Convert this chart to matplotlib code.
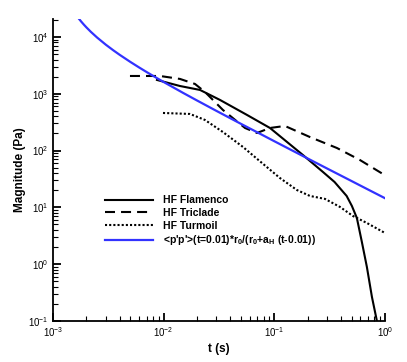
import numpy as np
import matplotlib
matplotlib.use("Agg")
import matplotlib.pyplot as plt
from matplotlib.ticker import LogLocator, NullFormatter

plt.rcParams['font.family'] = ['Liberation Sans', 'DejaVu Sans']
plt.rcParams['mathtext.fontset'] = 'custom'
plt.rcParams['mathtext.rm'] = 'Liberation Sans'
plt.rcParams['mathtext.it'] = 'Liberation Sans:italic'
plt.rcParams['mathtext.bf'] = 'Liberation Sans:bold'

# HF Flamenco
t_flamenco = [0.0087, 0.0140, 0.0213, 0.0323, 0.0566, 0.0913, 0.181, 0.275, 0.35,
              0.45, 0.502, 0.557, 0.618, 0.686, 0.762, 0.845]
v_flamenco = [1750, 1371, 1167, 778, 424, 250, 83.7, 42, 28,
              15.9, 10.6, 6.5, 2.46, 0.893, 0.265, 0.1]

# HF Triclade
t_triclade = [0.00496, 0.00926, 0.01404, 0.01918, 0.0236, 0.0343, 0.0543, 0.0697,
              0.0913, 0.1247, 0.2097, 0.3677, 0.593, 0.957]
v_triclade = [2056, 2056, 1824, 1488, 1077, 519, 250, 204,
              250, 271, 173, 111, 68.3, 38.7]

# HF Turmoil
t_turmoil = [0.00986, 0.01729, 0.0236, 0.0343, 0.052, 0.0773, 0.1123, 0.160,
             0.2097, 0.2866, 0.3913, 0.5128, 0.686, 1.0]
v_turmoil = [459, 441, 346, 212, 116, 60.5, 32.9, 20.2,
             15.9, 14.1, 10.2, 7.06, 5.31, 3.54]

# model curve
t_model = [0.0017, 0.0018, 0.0019, 0.002, 0.0022, 0.0025, 0.003, 0.0035, 0.004,
           0.005, 0.006, 0.007, 0.008, 0.01, 0.015, 0.02, 0.03, 0.04,
           0.05, 0.07, 0.1, 0.15, 0.2, 0.3, 0.5, 0.7, 1.0]
v_model = [21350, 18608, 16486, 14800, 12283, 9787, 7310, 5835, 4855,
           3634, 2904, 2418, 2072, 1610, 1034, 762, 499, 371,
           295, 210, 146, 97, 72.6, 48.3, 29, 20.7, 14.5]

labels = ["HF Flamenco", "HF Triclade", "HF Turmoil",
          r"<p'p'>(t=0.01)*r$_\mathbf{0}$/(r$_\mathbf{0}$+a$_\mathbf{H}$ (t-0.01))"]

fig = plt.figure(figsize=(4.07, 3.62), dpi=100)
ax = fig.add_axes([53/407, 1-321/362, 332/407, 302/362])

ax.plot(t_flamenco, v_flamenco, color='black', lw=1.5, label=labels[0])
ax.plot(t_triclade, v_triclade, color='black', lw=1.5, linestyle=(0, (4.8, 2.9)), label=labels[1])
ax.plot(t_turmoil, v_turmoil, color='black', lw=1.5, linestyle=(0, (1, 1)), label=labels[2])
ax.plot(t_model, v_model, color='#3232ff', lw=1.6, label=labels[3])

ax.set_xscale('log')
ax.set_yscale('log')
ax.set_xlim(1e-3, 1.0)
ax.set_ylim(0.1, 2.07e4)

for s in ['top', 'right']:
    ax.spines[s].set_visible(False)
for s in ['left', 'bottom']:
    ax.spines[s].set_linewidth(1.3)

ax.xaxis.set_major_locator(LogLocator(base=10, numticks=10))
ax.yaxis.set_major_locator(LogLocator(base=10, numticks=10))
ax.xaxis.set_minor_locator(LogLocator(base=10, subs=np.arange(2, 10), numticks=20))
ax.yaxis.set_minor_locator(LogLocator(base=10, subs=np.arange(2, 10), numticks=20))
ax.xaxis.set_minor_formatter(NullFormatter())
ax.yaxis.set_minor_formatter(NullFormatter())
ax.tick_params(which='major', direction='in', length=6, width=1.3, labelsize=7, pad=3)
ax.tick_params(which='minor', direction='in', length=3.5, width=0.8)
ax.tick_params(top=False, right=False)

ax.set_xlabel('t (s)', fontsize=8.5, fontweight='bold', labelpad=3)
ax.set_ylabel('Magnitude (Pa)', fontsize=8.5, fontweight='bold', labelpad=2)

ax.legend(loc='upper left', bbox_to_anchor=(0.1566, 0.4156), frameon=False,
          borderpad=0, borderaxespad=0, handlelength=4.6, handletextpad=1.0,
          labelspacing=0.25, prop={'size': 7.5, 'weight': 'bold'})

fig.savefig('out.png', dpi=100)
